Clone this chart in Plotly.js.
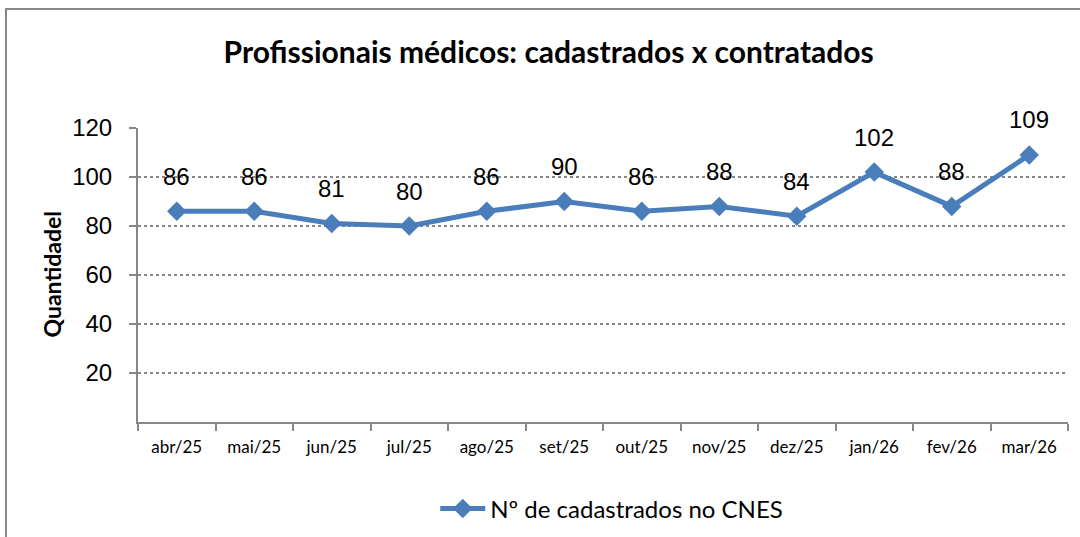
<!DOCTYPE html>
<html>
<head>
<meta charset="utf-8">
<script src="https://cdn.plot.ly/plotly-3.0.1.min.js"></script>
<style>
  html, body { margin: 0; padding: 0; background: #fff; }
  #wrap { position: relative; width: 1080px; height: 537px; overflow: hidden; }
  #frame { position: absolute; left: 5px; top: 8px; width: 1200px; height: 600px;
           border-left: 2px solid #878787; border-top: 2px solid #878787; pointer-events: none; z-index: 5; }
  #chart { position: absolute; left: 0; top: 0; width: 1080px; height: 537px; }
</style>
</head>
<body>
<div id="wrap">
  <div id="chart"></div>
  <div id="frame"></div>
</div>
<script>
const categories = ["abr/25","mai/25","jun/25","jul/25","ago/25","set/25","out/25","nov/25","dez/25","jan/26","fev/26","mar/26"];
const cadastrados = [86, 86, 81, 80, 86, 90, 86, 88, 84, 102, 88, 109];
const yTickValues = [20, 40, 60, 80, 100, 120];
const yTickLabels = ["20", "40", "60", "80", "100", "120"];
const seriesName = "Nº de cadastrados no CNES";
const chartTitle = "Profissionais médicos: cadastrados x contratados";
const yTitle = "Quantidadel";

const blue = "#4A7EBB";
const gray = "#878787";

const trace = {
  type: "scatter",
  mode: "lines+markers",
  x: categories,
  y: cadastrados,
  name: seriesName,
  line: { color: blue, width: 5 },
  marker: { symbol: "diamond", size: 15, color: blue, line: { width: 0 } },
  cliponaxis: false,
  hoverinfo: "x+y"
};

const annotations = categories.map((c, i) => ({
  x: c, y: cadastrados[i], xref: "x", yref: "y",
  text: String(cadastrados[i]), showarrow: false,
  yshift: 35,
  font: { family: "Liberation Sans, Arial, sans-serif", size: 24, color: "#000" }
}));

annotations.push({
  xref: "paper", yref: "paper", x: -0.093, y: 0.5,
  xanchor: "center", yanchor: "middle", textangle: -90,
  text: "<b>" + yTitle + "</b>", showarrow: false,
  font: { family: "Lato, sans-serif", size: 23, color: "#000" }
});

const layout = {
  width: 1080, height: 537,
  paper_bgcolor: "#fff", plot_bgcolor: "#fff",
  margin: { l: 138, r: 12, t: 128, b: 115 },
  title: {
    text: "<b>" + chartTitle + "</b>",
    font: { family: "Lato, sans-serif", size: 30, color: "#000" },
    x: 0.508, xanchor: "center", xref: "container",
    y: 0.903, yanchor: "middle", yref: "container"
  },
  xaxis: {
    type: "category",
    range: [-0.5, categories.length - 0.5],
    showline: true, linecolor: gray, linewidth: 2,
    ticks: "outside", ticklen: 7, tickcolor: gray, tickwidth: 2,
    tickson: "boundaries",
    showgrid: false, zeroline: false,
    tickfont: { family: "Lato, sans-serif", size: 17, color: "#000" },
    ticklabelstandoff: 9,
    fixedrange: true
  },
  yaxis: {
    range: [0, 120],
    tickmode: "array", tickvals: yTickValues, ticktext: yTickLabels,
    showline: true, linecolor: gray, linewidth: 2,
    ticks: "outside", ticklen: 7, tickcolor: gray, tickwidth: 2,
    showgrid: true, gridcolor: gray, gridwidth: 1.5, griddash: "dot",
    zeroline: false,
    tickfont: { family: "Liberation Sans, Arial, sans-serif", size: 24, color: "#000" },
    ticklabelstandoff: 12,
    fixedrange: true
  },
  showlegend: true,
  legend: {
    orientation: "h",
    xref: "container", yref: "container",
    x: 0.403, xanchor: "left",
    y: 1 - 509 / 537, yanchor: "middle",
    itemwidth: 45,
    font: { family: "Lato, sans-serif", size: 24, color: "#000" },
    bgcolor: "rgba(0,0,0,0)"
  },
  annotations: annotations
};

Plotly.newPlot("chart", [trace], layout, { displayModeBar: false, staticPlot: true });
</script>
</body>
</html>
